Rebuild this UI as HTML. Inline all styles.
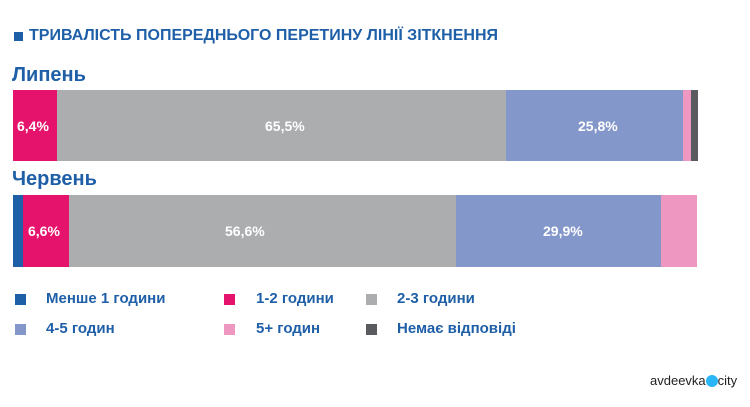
<!DOCTYPE html>
<html><head><meta charset="utf-8"><style>
body{margin:0;width:750px;height:407px;background:#fff;position:relative;overflow:hidden;font-family:"Liberation Sans",sans-serif;}
.a{position:absolute;}
.t{color:#1e5fa8;font-weight:bold;}
.seg{position:absolute;top:0;height:100%;}
.lbl{position:absolute;color:#fff;font-weight:bold;font-size:14px;top:50%;transform:translateY(-50%);}
.sq{position:absolute;width:11px;height:11px;}
.lg{position:absolute;color:#1e5fa8;font-weight:bold;font-size:15px;}
</style></head><body>
<div class="a" style="left:14px;top:32px;width:9px;height:9px;background:#1e5fa8"></div>
<div class="a t" style="left:29px;top:27px;font-size:16px;">ТРИВАЛІСТЬ ПОПЕРЕДНЬОГО ПЕРЕТИНУ ЛІНІЇ ЗІТКНЕННЯ</div>
<div class="a t" style="left:12px;top:64px;font-size:20px">Липень</div>
<div class="a" style="left:13px;top:90px;width:685px;height:71px">
<div class="seg" style="left:0;width:44px;background:#e5136b"></div>
<div class="seg" style="left:44px;width:449px;background:#acadaf"></div>
<div class="seg" style="left:493px;width:177px;background:#8497cb"></div>
<div class="seg" style="left:670px;width:8px;background:#ee98c1"></div>
<div class="seg" style="left:678px;width:7px;background:#5a5b5e"></div>
<div class="lbl" style="left:4px">6,4%</div>
<div class="lbl" style="left:252px">65,5%</div>
<div class="lbl" style="left:565px">25,8%</div>
</div>
<div class="a t" style="left:12px;top:168px;font-size:20px">Червень</div>
<div class="a" style="left:13px;top:195px;width:684px;height:72px">
<div class="seg" style="left:0;width:10px;background:#1e5fa8"></div>
<div class="seg" style="left:10px;width:46px;background:#e5136b"></div>
<div class="seg" style="left:56px;width:387px;background:#acadaf"></div>
<div class="seg" style="left:443px;width:205px;background:#8497cb"></div>
<div class="seg" style="left:648px;width:36px;background:#ee98c1"></div>
<div class="lbl" style="left:15px">6,6%</div>
<div class="lbl" style="left:212px">56,6%</div>
<div class="lbl" style="left:530px">29,9%</div>
</div>
<div class="sq" style="left:15px;top:294px;background:#1e5fa8"></div><div class="lg" style="left:46px;top:290px">Менше 1 години</div>
<div class="sq" style="left:224px;top:294px;background:#e5136b"></div><div class="lg" style="left:256px;top:290px">1-2 години</div>
<div class="sq" style="left:366px;top:294px;background:#acadaf"></div><div class="lg" style="left:397px;top:290px">2-3 години</div>
<div class="sq" style="left:15px;top:324px;background:#8497cb"></div><div class="lg" style="left:46px;top:320px">4-5 годин</div>
<div class="sq" style="left:224px;top:324px;background:#ee98c1"></div><div class="lg" style="left:256px;top:320px">5+ годин</div>
<div class="sq" style="left:366px;top:324px;background:#5a5b5e"></div><div class="lg" style="left:397px;top:320px">Немає відповіді</div>
<div class="a" style="left:650px;top:373px;font-size:13px;color:#222">avdeevka<span style="display:inline-block;width:12px;height:12px;border-radius:50%;background:#29b6f6;vertical-align:-2px"></span>city</div>
</body></html>
